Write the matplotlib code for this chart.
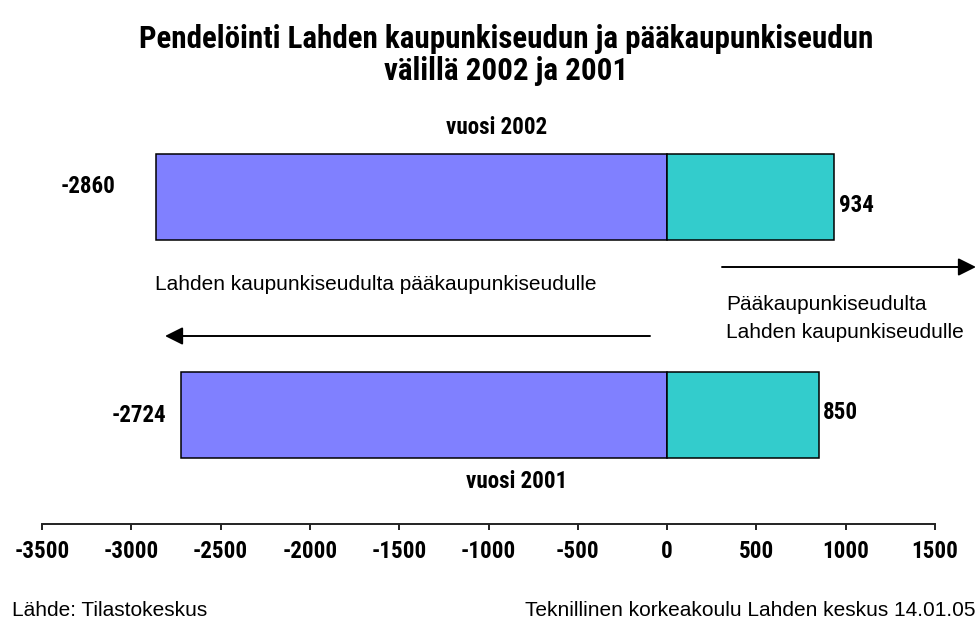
import os
import matplotlib
matplotlib.use('Agg')
import matplotlib.pyplot as plt
from matplotlib import font_manager as fm
from matplotlib.patches import FancyArrowPatch

W, H = 978, 625

years = ['vuosi 2002', 'vuosi 2001']
to_capital = [-2860, -2724]      # Lahden kaupunkiseudulta pääkaupunkiseudulle
from_capital = [934, 850]        # Pääkaupunkiseudulta Lahden kaupunkiseudulle
ticks = [-3500, -3000, -2500, -2000, -1500, -1000, -500, 0, 500, 1000, 1500]

title1 = 'Pendelöinti Lahden kaupunkiseudun ja pääkaupunkiseudun'
title2 = 'välillä 2002 ja 2001'

plt.rcParams['font.family'] = ['Liberation Sans', 'DejaVu Sans']


def narrow_bold():
    # a condensed bold face looks closest to the squeezed Arial of the original
    prefs = ['liberationsansnarrow', 'arialn', 'robotocondensed', 'dejavusanscondensed',
             'notosans', 'opensans']
    found = []
    for f in fm.fontManager.ttflist:
        base = os.path.basename(f.fname).lower()
        if not any(k in base for k in ('narrow', 'condensed', 'cond')):
            continue
        if 'bold' not in base:
            continue
        if any(k in base for k in ('semi', 'extra', 'italic', 'oblique')):
            continue
        rank = next((i for i, p in enumerate(prefs) if base.startswith(p)), len(prefs))
        found.append((rank, base, f.fname))
    if found:
        found.sort()
        return fm.FontProperties(fname=found[0][2])
    return fm.FontProperties(family='Liberation Sans', weight='bold')


def fx(x):
    return x / W


def fy(y):
    return 1 - y / H


fig = plt.figure(figsize=(W / 100, H / 100), dpi=100)
fig.patch.set_facecolor('white')
renderer = fig.canvas.get_renderer()

nb = narrow_bold()


def size_for(text, width, fp):
    probe = fig.text(0, 0, text, fontproperties=fp, fontsize=10)
    w = probe.get_window_extent(renderer).width
    probe.remove()
    return 10 * width / w


lab_size = size_for('-3500', 55, nb)
title_size = size_for(title1, 735, nb)


def bold(size=None):
    fp = nb.copy()
    fp.set_size(size or lab_size)
    return fp


# axes: bottom spine at pixel 524, top at pixel 100
ax = fig.add_axes([fx(42), fy(524), (935 - 42) / W, (524 - 100) / H])
ax.set_xlim(ticks[0], ticks[-1])
ax.set_ylim(-0.5, 1.445)

ypos = [1, 0]
ax.barh(ypos, to_capital, height=0.39, color='#8080FF', edgecolor='black', linewidth=1.1)
ax.barh(ypos, from_capital, height=0.39, color='#33CCCC', edgecolor='black', linewidth=1.1)

for sp in ['top', 'left', 'right']:
    ax.spines[sp].set_visible(False)
ax.spines['bottom'].set_linewidth(1.4)
ax.spines['bottom'].set_color('#222222')
ax.set_yticks([])
ax.set_xticks(ticks)
ax.set_xticklabels([str(t) for t in ticks])
for lbl in ax.get_xticklabels():
    lbl.set_fontproperties(bold())
ax.tick_params(axis='x', direction='out', length=4.5, width=1.4, color='#222222', pad=7)

# value labels
ax.text(to_capital[0] - 230, ypos[0] + 0.05, str(to_capital[0]), ha='right', va='center',
        fontproperties=bold())
ax.text(from_capital[0] + 30, ypos[0] - 0.04, str(from_capital[0]), ha='left', va='center',
        fontproperties=bold())
ax.text(to_capital[1] - 80, ypos[1], str(to_capital[1]), ha='right', va='center',
        fontproperties=bold())
ax.text(from_capital[1] + 25, ypos[1] + 0.01, str(from_capital[1]), ha='left', va='center',
        fontproperties=bold())

# title
fig.text(fx(506), fy(39), title1, ha='center', va='center', fontproperties=bold(title_size))
fig.text(fx(506), fy(71), title2, ha='center', va='center', fontproperties=bold(title_size))

fig.text(fx(497), fy(127), years[0], ha='center', va='center', fontproperties=bold())
fig.text(fx(517), fy(481), years[1], ha='center', va='center', fontproperties=bold())

fig.text(fx(155), fy(285), 'Lahden kaupunkiseudulta pääkaupunkiseudulle', ha='left',
         va='center', fontsize=15)
fig.text(fx(726), fy(305), 'Pääkaupunkiseudulta', ha='left', va='center', fontsize=15)
fig.text(fx(726), fy(332), 'Lahden kaupunkiseudulle', ha='left', va='center', fontsize=15)

# arrows
arrow = dict(arrowstyle='-|>,head_length=0.6,head_width=0.3', mutation_scale=18, lw=1.4,
             color='black', shrinkA=0, shrinkB=0, transform=fig.transFigure)
fig.add_artist(FancyArrowPatch((fx(650), fy(336)), (fx(165), fy(336)), **arrow))
fig.add_artist(FancyArrowPatch((fx(722), fy(267)), (fx(976), fy(267)), **arrow))

# footer
fig.text(fx(12), fy(611), 'Lähde: Tilastokeskus', ha='left', va='center', fontsize=15)
fig.text(fx(976), fy(611), 'Teknillinen korkeakoulu Lahden keskus 14.01.05', ha='right',
         va='center', fontsize=15)

fig.savefig('out.png', dpi=100)
